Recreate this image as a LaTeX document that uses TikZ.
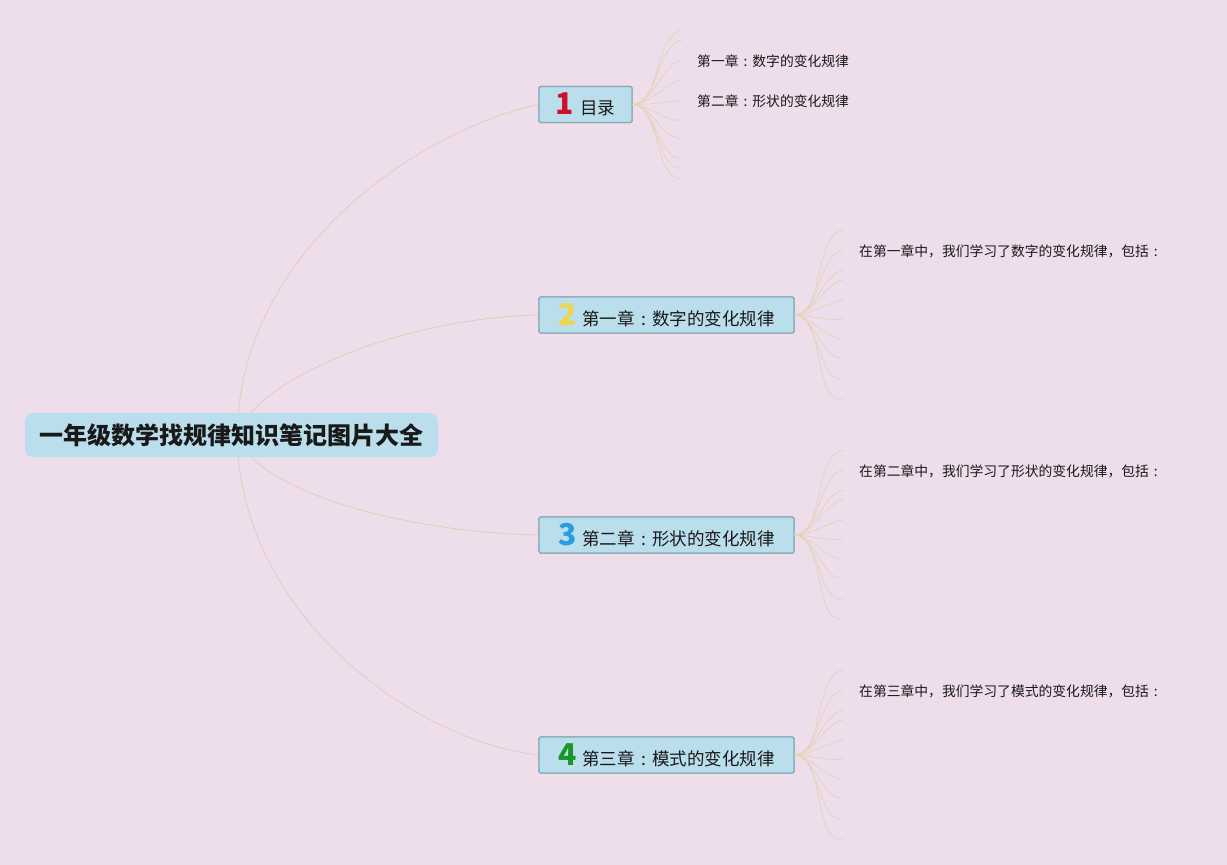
\documentclass[tikz,border=0pt]{standalone}
\usepackage{fontspec}
\newfontfamily\cjk{Noto Sans CJK SC}
\setmainfont{Noto Sans CJK SC}
\definecolor{bgc}{RGB}{238,221,235}
\definecolor{boxfill}{RGB}{187,222,236}
\definecolor{boxline}{RGB}{138,170,181}
\definecolor{mainline}{RGB}{228,204,186}
\definecolor{fanline}{RGB}{226,212,182}
\definecolor{txt}{RGB}{25,25,25}
\definecolor{n1}{RGB}{208,16,42}
\definecolor{n2}{RGB}{240,212,74}
\definecolor{n3}{RGB}{40,156,224}
\definecolor{n4}{RGB}{26,150,40}
\tikzset{
  rootbox/.style={fill=boxfill, rounded corners=8pt, minimum width=413pt, minimum height=44pt, inner sep=0pt, text=txt, font=\cjk\bfseries\fontsize{24}{27}\selectfont},
  topicbox/.style={fill=boxfill, draw=boxline, line width=1.2pt, rounded corners=1.5pt, minimum height=36pt, inner sep=0pt, text=txt, font=\cjk\fontsize{17.5}{20}\selectfont},
  leaf/.style={anchor=west, inner sep=0pt, text=txt, font=\cjk\fontsize{13.8}{16}\selectfont},
  mainconn/.style={draw=mainline, line width=0.8pt},
  fanconn/.style={draw=fanline, line width=0.7pt},
}
\newcommand{\numicon}[2]{{\color{#1}\bfseries\fontsize{30}{30}\selectfont #2}\hspace{6pt}}
\newcommand{\cc}{\makebox[1em][c]{:}}
\begin{document}
\begin{tikzpicture}[x=1pt,y=-1pt]
\fill[bgc] (0,0) rectangle (1227,865);
\useasboundingbox (0,0) rectangle (1227,865);
\coordinate (root) at (237,435);
% topic boxes
\node[topicbox, minimum width=93pt] (b1) at (585.5,104.5) {\numicon{n1}{1}目录};
\node[topicbox, minimum width=255pt] (b2) at (666.5,315) {\numicon{n2}{2}第一章\cc 数字的变化规律};
\node[topicbox, minimum width=255pt] (b3) at (666.5,535) {\numicon{n3}{3}第二章\cc 形状的变化规律};
\node[topicbox, minimum width=255pt] (b4) at (666.5,755) {\numicon{n4}{4}第三章\cc 模式的变化规律};
% main connectors
\path[mainconn] (root) .. controls (240,250) and (420,130) .. (b1.west);
\path[mainconn] (root) .. controls (255,380) and (400,318) .. (b2.west);
\path[mainconn] (root) .. controls (255,490) and (400,532) .. (b3.west);
\path[mainconn] (root) .. controls (240,620) and (420,742) .. (b4.west);
% root box (drawn over connectors)
\node[rootbox] (main) at (231.5,435) {一年级数学找规律知识笔记图片大全};
% redraw topic boxes on top
\node[topicbox, minimum width=93pt] at (585.5,104.5) {\numicon{n1}{1}目录};
\node[topicbox, minimum width=255pt] at (666.5,315) {\numicon{n2}{2}第一章\cc 数字的变化规律};
\node[topicbox, minimum width=255pt] at (666.5,535) {\numicon{n3}{3}第二章\cc 形状的变化规律};
\node[topicbox, minimum width=255pt] at (666.5,755) {\numicon{n4}{4}第三章\cc 模式的变化规律};
% fans
\foreach \k/\dy in {1/-73,2/-63,3/-43,4/-23,5/-3,6/17,7/35,8/55,9/65,10/75}{
  \coordinate (f1-\k) at (682,103+\dy);
  \path[fanconn] (b1.east) to[out=0,in=190,looseness=0.8] (f1-\k);
}
\foreach \b/\cy in {2/315,3/535,4/755}{
  \foreach \k/\dy in {1/-85,2/-65,3/-45,4/-35,5/-15,6/4,7/23,8/43,9/64,10/84}{
    \coordinate (f\b-\k) at (843,\cy+\dy);
    \path[fanconn] (b\b.east) to[out=0,in=190,looseness=0.8] (f\b-\k);
  }
}
% leaves
\node[leaf] (l11) at (697,61) {第一章\cc 数字的变化规律};
\node[leaf] (l12) at (697,101) {第二章\cc 形状的变化规律};
\node[leaf] (l2) at (859,251) {在第一章中，我们学习了数字的变化规律，包括\cc};
\node[leaf] (l3) at (859,471) {在第二章中，我们学习了形状的变化规律，包括\cc};
\node[leaf] (l4) at (859,691) {在第三章中，我们学习了模式的变化规律，包括\cc};
\end{tikzpicture}
\end{document}
